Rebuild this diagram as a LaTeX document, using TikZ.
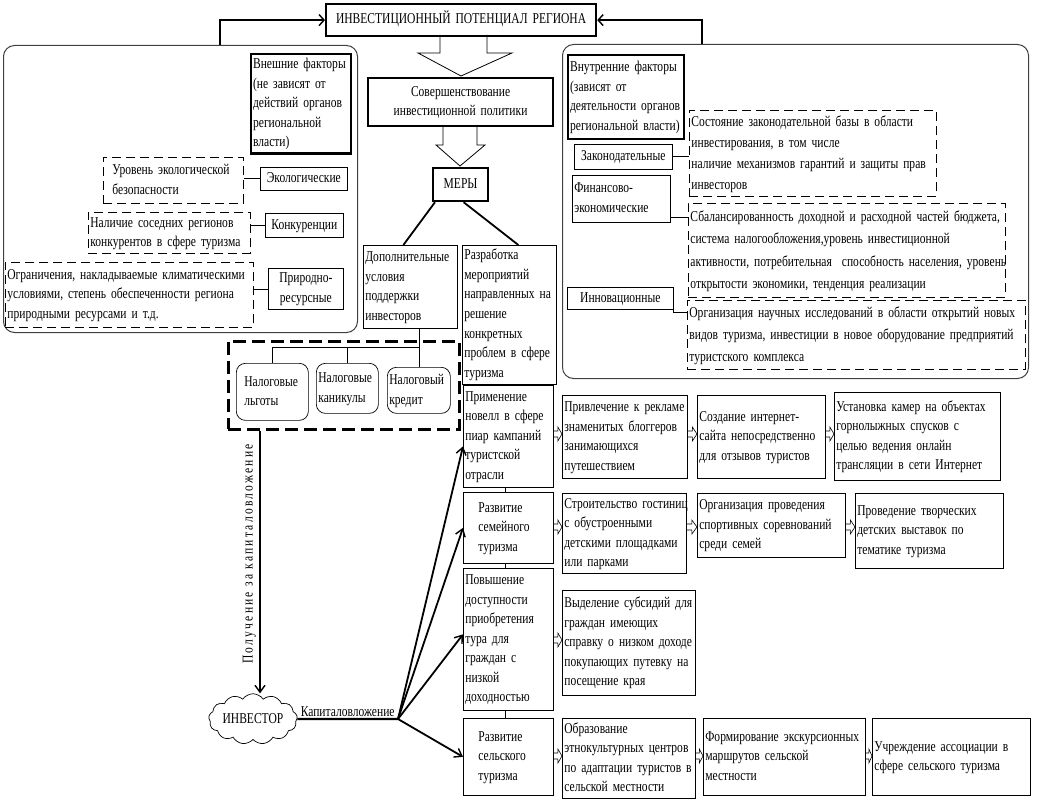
\documentclass[tikz,border=0pt]{standalone}
\usepackage{fontspec}
\setmainfont{Liberation Serif}[FakeStretch=0.77]
\usetikzlibrary{shapes.symbols,arrows.meta,calc}
\newcommand\mybox[7]{%
  \pgfmathsetmacro\myBW{#5-#3}%
  \pgfmathsetmacro\myBH{#6-#4}%
  \pgfmathsetmacro\myTW{#5-#3-4}%
  \node[#1, anchor=north west, minimum width=\myBW pt, minimum height=\myBH pt, text width=\myTW pt] (#2) at (#3,#4) {#7};}
\newcommand\myL[1]{\begin{tabular}{@{}l@{}}#1\end{tabular}}
\newcommand\myC[1]{\begin{tabular}{@{}c@{}}#1\end{tabular}}
\newcommand\harrow[3]{%
  \coordinate (hy) at (0,#3);
  \coordinate (hA) at (#1.east |- hy);
  \coordinate (hB) at (#2.west |- hy);
  \coordinate (hM) at ($(hA)!0.5!(hB)$);
  \draw[hol] ($(hA)+(0,-3)$) -- ($(hM)+(0,-3)$) -- ($(hM)+(0,-7)$) -- (hB) -- ($(hM)+(0,7)$) -- ($(hM)+(0,3)$) -- ($(hA)+(0,3)$);}
\tikzset{
  base/.style={draw, inner xsep=2pt, inner ysep=1pt, font=\fontsize{15}{19.5}\selectfont, align=left},
  nbox/.style={base, line width=0.7pt},
  tbox/.style={base, line width=2.2pt},
  dbox/.style={base, line width=0.8pt, dash pattern=on 9pt off 5pt},
  rbox/.style={base, line width=0.7pt, rounded corners=9pt},
  frame/.style={draw=black!75, line width=1pt, rounded corners=11pt, inner sep=0pt},
  bigdash/.style={draw, line width=2.6pt, dash pattern=on 13pt off 6pt, inner sep=0pt},
  conn/.style={line width=0.7pt},
  hol/.style={line width=0.6pt},
  hollow/.style={line width=0.8pt},
  bracket/.style={line width=2.4pt, -{Straight Barb[length=5pt,width=11pt,line width=1.4pt]}},
  mline/.style={line width=1.8pt},
  fan/.style={line width=1.8pt, -{Straight Barb[length=7pt,width=10pt,line width=1.4pt]}},
  lbl/.style={font=\fontsize{15}{16}\selectfont, inner sep=1pt},
}
\begin{document}
\begin{tikzpicture}[x=1pt,y=-1pt]
\useasboundingbox (0,0) rectangle (1038,802);
% frames
\mybox{frame}{lf}{3}{45}{357}{332}{}
\mybox{frame}{rf}{562}{44}{1028}{378}{}
% top
\mybox{tbox,align=center}{top}{325}{3}{595}{35}{\myC{ИНВЕСТИЦИОННЫЙ ПОТЕНЦИАЛ РЕГИОНА}}
\coordinate (lbx) at (220,0);
\coordinate (rbx) at (702,0);
\draw[bracket] (lbx |- lf.north) |- (top.west);
\draw[bracket] (rbx |- rf.north) |- (top.east);
% left frame
\mybox{tbox}{ext}{250}{53}{350}{151}{\myL{Внешние факторы\\(не зависят от\\действий органов\\региональной\\власти)}}
\mybox{dbox}{eco}{103}{157}{243}{203}{\hspace*{7pt}\myL{Уровень экологической\\безопасности}}
\mybox{nbox,align=center}{ecoL}{260}{167}{347}{190}{\myC{Экологические}}
\draw[conn] (ecoL.west) -- (ecoL.west -| eco.east);
\mybox{dbox}{comp}{88}{212}{250}{253}{\myL{Наличие соседних регионов\\конкурентов в сфере туризма}}
\mybox{nbox,align=center}{compL}{265}{213}{343}{237}{\myC{Конкуренции}}
\draw[conn] (compL.west) -- (compL.west -| comp.east);
\mybox{dbox}{nat}{5}{262}{253}{327}{\myL{Ограничения, накладываемые климатическими\\условиями, степень обеспеченности региона\\природными ресурсами и т.д.}}
\mybox{nbox,align=center}{natL}{268}{268}{343}{306}{\myC{Природно-\\ресурсные}}
\draw[conn] (natL.west) -- (natL.west -| nat.east);
% right frame
\mybox{tbox}{int}{567}{54}{683}{138}{\myL{Внутренние факторы\\(зависят от\\деятельности органов\\региональной власти)}}
\mybox{dbox,font=\fontsize{15}{21}\selectfont}{law}{689}{110}{936}{194}{\myL{Состояние законодательной базы в области\\инвестирования, в том числе\\наличие механизмов гарантий и защиты прав\\инвесторов}}
\mybox{nbox,align=center}{lawL}{574}{144}{672}{169}{\myC{Законодательные}}
\draw[conn] (lawL.east) -- (lawL.east -| law.west);
\mybox{nbox}{fin}{572}{175}{670}{222}{\myL{Финансово-\\экономические}}
\mybox{dbox,font=\fontsize{15}{22.5}\selectfont}{finD}{688}{203}{1005}{297}{\myL{Сбалансированность доходной и расходной частей бюджета,\\система налогообложения,уровень инвестиционной\\активности, потребительная\ \ способность населения, уровень\\открытости экономики, тенденция реализации}}
\draw[conn] ($(fin.south east)+(0,-5)$) coordinate (fc) -- (fc -| finD.west);
\mybox{nbox,align=center}{inn}{567}{287}{673}{309}{\myC{Инновационные}}
\mybox{dbox,font=\fontsize{15}{22}\selectfont}{innD}{687}{300}{1025}{369}{\myL{Организация научных исследований в области открытий новых\\видов туризма, инвестиции в новое оборудование предприятий\\туристского комплекса}}
\draw[conn] (inn.south east) |- ($(innD.north west)+(0,12)$);
% middle
\mybox{tbox,align=center}{sov}{367}{77}{552}{125}{\myC{Совершенствование\\инвестиционной политики}}
\draw[hollow] (440,35) -- (440,53) -- (418,53) -- (461,76) -- (512,53) -- (487,53) -- (487,35);
\draw[hollow] (443,125) -- (443,145) -- (436,145) -- (460,166) -- (485,145) -- (477,145) -- (477,125);
\mybox{tbox,align=center}{mery}{432}{167}{487}{200}{\myC{МЕРЫ}}
\mybox{nbox}{dop}{363}{245}{457}{328}{\myL{Дополнительные\\условия\\поддержки\\инвесторов}}
\mybox{nbox}{razr}{462}{245}{556}{380}{\myL{Разработка\\мероприятий\\направленных на\\решение\\конкретных\\проблем в сфере\\туризма}}
\draw[mline] ($(mery.south west)+(3,0)$) -- ($(dop.north)+(-7,0)$);
\draw[mline] ($(mery.south)+(3,0)$) -- ($(razr.north)+(9,0)$);
% taxes
\mybox{bigdash}{tf}{227}{340}{458}{428}{}
\mybox{rbox}{t1}{236}{363}{308}{420}{\hspace*{6pt}\myL{Налоговые\\льготы}}
\mybox{rbox}{t2}{316}{363}{378}{413}{\myL{Налоговые\\каникулы}}
\mybox{rbox}{t3}{387}{367}{450}{413}{\myL{Налоговый\\кредит}}
\coordinate (hy0) at (0,347);
\draw[conn] (t3.north |- dop.south) -- (t3.north);
\draw[conn] (t1.north) |- (t3.north |- hy0);
\draw[conn] (t2.north) -- (t2.north |- hy0);
% investor
\node[cloud, draw, line width=0.7pt, cloud puffs=13, cloud puff arc=110, aspect=2.1, minimum width=88pt, minimum height=46pt, inner sep=0pt, font=\fontsize{15}{16}\selectfont] (inv) at (253,719) {ИНВЕСТОР};
\coordinate (vx) at (260,0);
\draw[fan] (vx |- tf.south) -- (vx |- inv.north);
\node[lbl, rotate=90, anchor=south, font=\fontsize{15}{16}\selectfont\addfontfeature{LetterSpace=15}] (getlbl) at (257,554) {Получение за капиталовложение};
\coordinate (hub) at (398,719);
\draw[line width=2.2pt] (inv.east) -- node[lbl, above] (caplbl) {Капиталовложение} (hub);
% column
\mybox{nbox}{primen}{463}{385}{553}{487}{\myL{Применение\\новелл в сфере\\пиар кампаний\\туристской\\отрасли}}
\mybox{nbox}{sem}{463}{492}{553}{563}{\hspace*{13pt}\myL{Развитие\\семейного\\туризма}}
\mybox{nbox}{pov}{463}{568}{553}{710}{\myL{Повышение\\доступности\\приобретения\\тура для\\граждан с\\низкой\\доходностью}}
\mybox{nbox}{sel}{463}{718}{553}{795}{\hspace*{13pt}\myL{Развитие\\сельского\\туризма}}
\coordinate (cx) at (505,0);
\draw[conn] (cx |- razr.south) -- (cx |- primen.north);
\draw[conn] (cx |- primen.south) -- (cx |- sem.north);
\draw[conn] (cx |- sem.south) -- (cx |- pov.north);
\draw[conn] (cx |- pov.south) -- (cx |- sel.north);
\draw[fan] (hub) -- ($(primen.west)+(0,10)$);
\draw[fan] (hub) -- (sem.west);
\draw[fan] (hub) -- ($(pov.west)+(0,-5)$);
\draw[fan] (hub) -- (sel.west);
% row 1
\mybox{nbox}{priv}{562}{395}{687}{478}{\myL{Привлечение к рекламе\\знаменитых блоггеров\\занимающихся\\путешествием}}
\mybox{nbox}{sozd}{697}{395}{825}{478}{\myL{Создание интернет-\\сайта непосредственно\\для отзывов туристов}}
\mybox{nbox}{ust}{834}{392}{1000}{480}{\myL{Установка камер на объектах\\горнолыжных спусков с\\целью ведения онлайн\\трансляции в сети Интернет}}
\harrow{primen}{priv}{434}
\harrow{priv}{sozd}{434}
\harrow{sozd}{ust}{434}
% row 2
\mybox{nbox}{stroi}{562}{493}{686}{565}{\myL{Строительство гостиниц\\с обустроенными\\детскими площадками\\или парками}}
\mybox{nbox}{org}{697}{493}{845}{557}{\myL{Организация проведения\\спортивных соревнований\\среди семей}}
\mybox{nbox}{prov}{855}{493}{1003}{568}{\myL{Проведение творческих\\детских выставок по\\тематике туризма}}
\harrow{sem}{stroi}{527}
\harrow{stroi}{org}{527}
\harrow{org}{prov}{527}
% row 3
\mybox{nbox}{vyd}{562}{590}{695}{695}{\myL{Выделение субсидий для\\граждан имеющих\\справку о низком доходе\\покупающих путевку на\\посещение края}}
\harrow{pov}{vyd}{640}
% row 4
\mybox{nbox}{obr}{562}{718}{695}{798}{\myL{Образование\\этнокультурных центров\\по адаптации туристов в\\сельской местности}}
\mybox{nbox}{form}{703}{718}{865}{795}{\myL{Формирование экскурсионных\\маршрутов сельской\\местности}}
\mybox{nbox}{uch}{872}{718}{1030}{795}{\myL{Учреждение ассоциации в\\сфере сельского туризма\\ }}
\harrow{sel}{obr}{756}
\harrow{obr}{form}{756}
\harrow{form}{uch}{756}
\end{tikzpicture}
\end{document}
